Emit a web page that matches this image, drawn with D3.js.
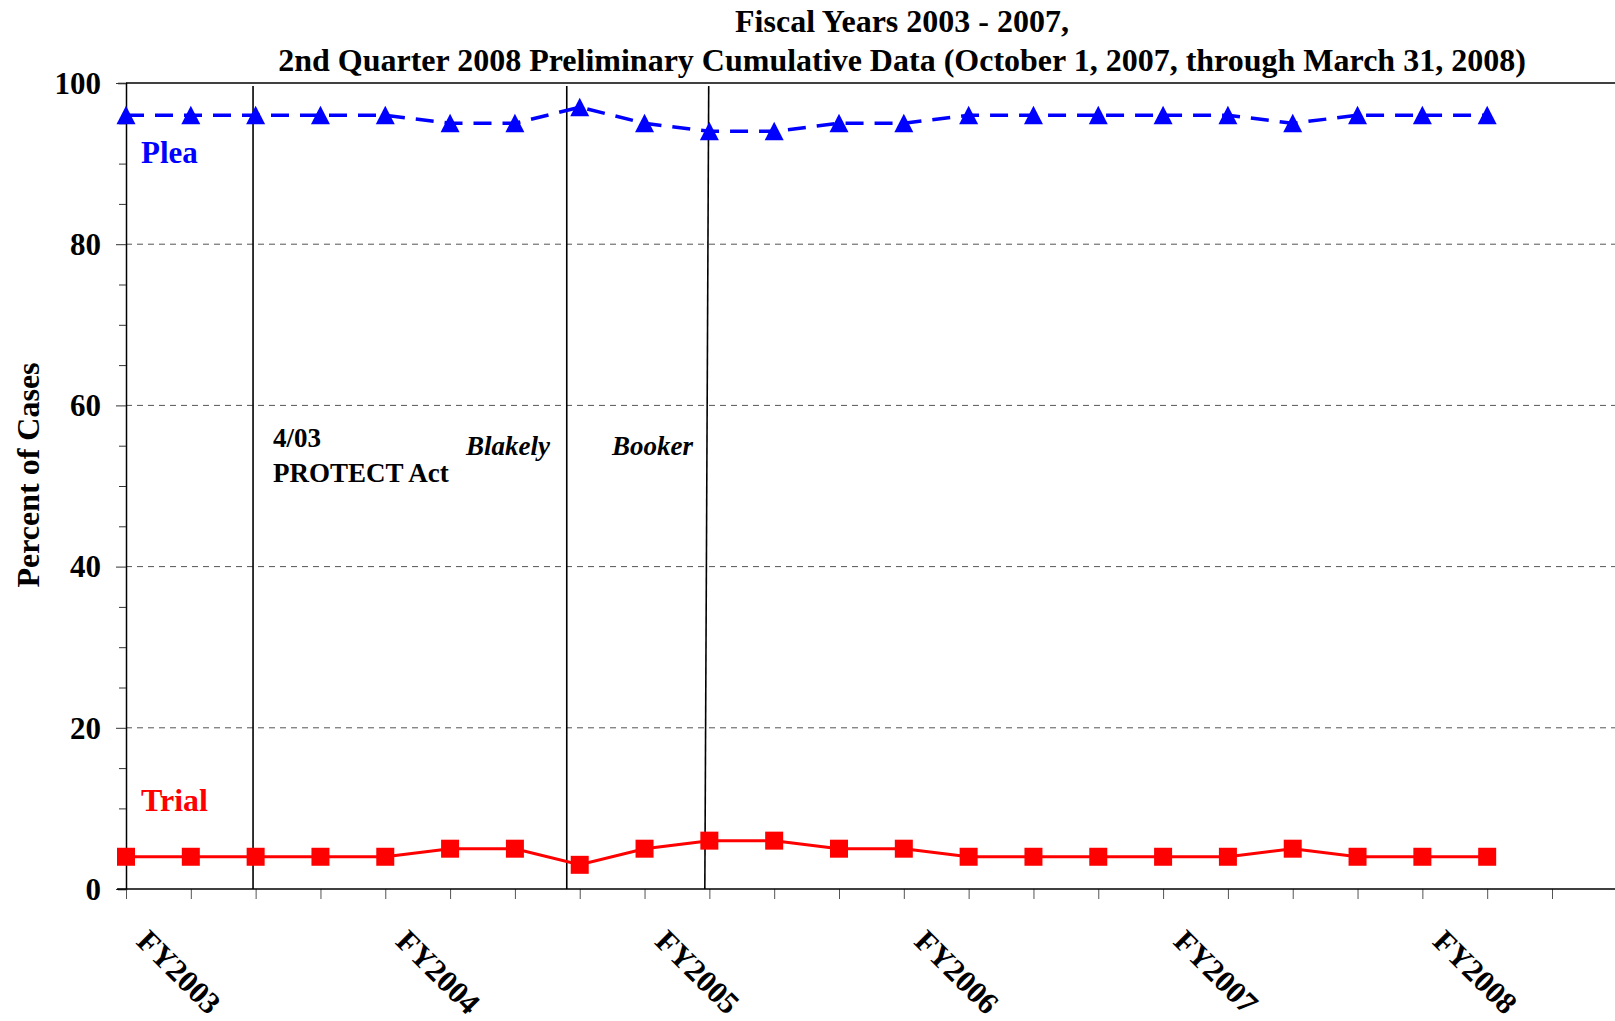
<!DOCTYPE html>
<html>
<head>
<meta charset="utf-8">
<script src="https://cdn.jsdelivr.net/npm/d3@7"></script>
<style>
  body { margin: 0; background: #fff; }
  text { font-family: "Liberation Serif", "Times New Roman", serif; font-weight: bold; }
</style>
</head>
<body>
<div id="chart"></div>
<script>
var quarters = ["FY2003 Q1", "FY2003 Q2", "FY2003 Q3", "FY2003 Q4",
                "FY2004 Q1", "FY2004 Q2", "FY2004 Q3", "FY2004 Q4",
                "FY2005 Q1", "FY2005 Q2", "FY2005 Q3", "FY2005 Q4",
                "FY2006 Q1", "FY2006 Q2", "FY2006 Q3", "FY2006 Q4",
                "FY2007 Q1", "FY2007 Q2", "FY2007 Q3", "FY2007 Q4",
                "FY2008 Q1", "FY2008 Q2"];
var pleaValues = [96, 96, 96, 96, 96, 95, 95, 97, 95, 94, 94, 95, 95, 96, 96, 96, 96, 96, 95, 96, 96, 96];
var trialValues = [4, 4, 4, 4, 4, 5, 5, 3, 5, 6, 6, 5, 5, 4, 4, 4, 4, 4, 5, 4, 4, 4];
var yearLabels = ["FY2003", "FY2004", "FY2005", "FY2006", "FY2007", "FY2008"];
var yTicks = [0, 20, 40, 60, 80, 100];
// events: position in quarter units (top, bottom) and label lines
var events = [
  {top: 1.96, bottom: 1.96, lines: ["4/03", "PROTECT Act"], italic: false},
  {top: 6.8, bottom: 6.8, lines: ["Blakely"], italic: true},
  {top: 8.99, bottom: 8.93, lines: ["Booker"], italic: true}
];
var titleLines = ["Fiscal Years 2003 - 2007,",
                  "2nd Quarter 2008 Preliminary Cumulative Data (October 1, 2007, through March 31, 2008)"];

var W = 1615, H = 1021;
var plotLeft = 126, plotTop = 83, plotBottom = 889;

var svg = d3.select("#chart").append("svg")
    .attr("width", W)
    .attr("height", H);

var x = d3.scaleLinear().domain([0, 22]).range([plotLeft, 1552]);
var y = d3.scaleLinear().domain([0, 100]).range([plotBottom, plotTop]);

// title
svg.selectAll(".title")
   .data(titleLines)
   .enter().append("text")
   .attr("x", 902)
   .attr("y", function(d, i) { return 32 + i * 39; })
   .attr("text-anchor", "middle")
   .style("font-size", "32px")
   .text(function(d) { return d; });

// dashed grid
svg.selectAll(".grid")
   .data([20, 40, 60, 80])
   .enter().append("line")
   .attr("x1", plotLeft).attr("x2", W)
   .attr("y1", function(d) { return y(d); })
   .attr("y2", function(d) { return y(d); })
   .attr("stroke", "#555")
   .attr("stroke-width", 1)
   .attr("stroke-dasharray", "6,5");

// top border
svg.append("line")
   .attr("x1", plotLeft).attr("x2", W)
   .attr("y1", y(100)).attr("y2", y(100))
   .attr("stroke", "#000").attr("stroke-width", 1.5);

// y axis
var yAxis = svg.append("g")
   .attr("transform", "translate(" + plotLeft + ",0)")
   .call(d3.axisLeft(y).tickValues(d3.range(0, 101, 5)).tickSize(8).tickFormat(""));
yAxis.select(".domain").attr("stroke-width", 1.5);
yAxis.selectAll(".tick line")
   .attr("x2", function(d) { return d % 20 === 0 ? -10 : -7; })
   .attr("stroke", "#333");

svg.selectAll(".ylab")
   .data(yTicks)
   .enter().append("text")
   .attr("x", 101)
   .attr("y", function(d) { return y(d); })
   .attr("dy", "0.35em")
   .attr("text-anchor", "end")
   .style("font-size", "31px")
   .text(function(d) { return d; });

svg.append("text")
   .attr("transform", "translate(39,475) rotate(-90)")
   .attr("text-anchor", "middle")
   .style("font-size", "32px")
   .text("Percent of Cases");

// x axis
var xAxis = svg.append("g")
   .attr("transform", "translate(0," + plotBottom + ")")
   .call(d3.axisBottom(x).tickValues(d3.range(0, 23)).tickSize(10).tickFormat(""));
xAxis.select(".domain").remove();
xAxis.selectAll(".tick line").attr("stroke", "#555");
svg.append("line")
   .attr("x1", plotLeft - 9).attr("x2", W)
   .attr("y1", plotBottom).attr("y2", plotBottom)
   .attr("stroke", "#000").attr("stroke-width", 1.5);

svg.selectAll(".xlab")
   .data(yearLabels)
   .enter().append("text")
   .attr("transform", function(d, i) {
     return "translate(" + (x(i * 4) + 9) + ",943) rotate(45)";
   })
   .style("font-size", "31px")
   .text(function(d) { return d; });

// event lines
svg.selectAll(".event")
   .data(events)
   .enter().append("line")
   .attr("x1", function(d) { return x(d.top); })
   .attr("x2", function(d) { return x(d.bottom); })
   .attr("y1", plotTop + 3)
   .attr("y2", plotBottom)
   .attr("stroke", "#000")
   .attr("stroke-width", 1.6);

var annot = [
  {x: 273, y: 447, text: events[0].lines[0], italic: false},
  {x: 273, y: 482, text: events[0].lines[1], italic: false},
  {x: 466, y: 455, text: events[1].lines[0], italic: true},
  {x: 612, y: 455, text: events[2].lines[0], italic: true}
];
svg.selectAll(".annot")
   .data(annot)
   .enter().append("text")
   .attr("x", function(d) { return d.x; })
   .attr("y", function(d) { return d.y; })
   .style("font-size", "27px")
   .style("font-style", function(d) { return d.italic ? "italic" : "normal"; })
   .text(function(d) { return d.text; });

// plea series
var line = d3.line()
   .x(function(d, i) { return x(i); })
   .y(function(d) { return y(d); });

svg.append("path")
   .datum(pleaValues)
   .attr("d", line)
   .attr("fill", "none")
   .attr("stroke", "#0000ff")
   .attr("stroke-width", 3.5)
   .attr("stroke-dasharray", "18,11");

svg.selectAll(".tri")
   .data(pleaValues)
   .enter().append("path")
   .attr("transform", function(d, i) { return "translate(" + x(i) + "," + y(d) + ")"; })
   .attr("d", "M0,-9.5L9.5,9L-9.5,9Z")
   .attr("fill", "#0000ff");

// trial series
svg.append("path")
   .datum(trialValues)
   .attr("d", line)
   .attr("fill", "none")
   .attr("stroke", "#ff0000")
   .attr("stroke-width", 3);

svg.selectAll(".sq")
   .data(trialValues)
   .enter().append("rect")
   .attr("x", function(d, i) { return x(i) - 9; })
   .attr("y", function(d) { return y(d) - 9; })
   .attr("width", 18)
   .attr("height", 18)
   .attr("fill", "#ff0000");

// series labels
svg.append("text")
   .attr("x", 141).attr("y", 163)
   .attr("fill", "#0000ff")
   .style("font-size", "31px")
   .text("Plea");

svg.append("text")
   .attr("x", 141).attr("y", 811)
   .attr("fill", "#ff0000")
   .style("font-size", "32px")
   .text("Trial");
</script>
</body>
</html>
